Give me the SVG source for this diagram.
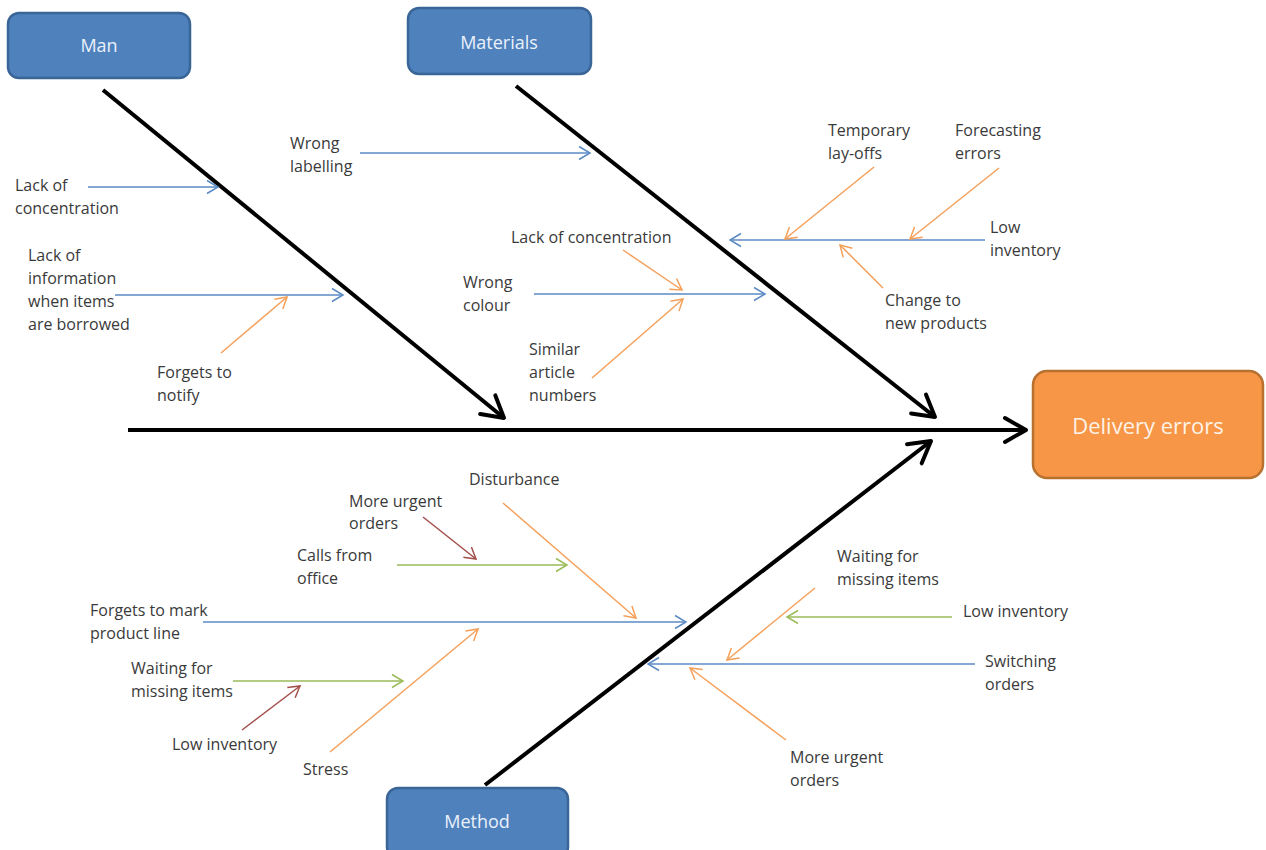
<svg xmlns="http://www.w3.org/2000/svg" width="1266" height="850" viewBox="0 0 1266 850">
  <style>
    .lbl { font-family: "Open Sans", "Liberation Sans", sans-serif; font-size: 16px; fill: #3a3a3a; }
    .cat { font-family: "Open Sans", "Liberation Sans", sans-serif; font-size: 18px; fill: #eaf1fa; text-anchor: middle; }
    .effect { font-family: "Open Sans", "Liberation Sans", sans-serif; font-size: 22px; fill: #fdf2e6; text-anchor: middle; }
    .catbox { fill: #4f81bd; stroke: #3a6597; stroke-width: 2.5; }
    .effbox { fill: #f79646; stroke: #b8702f; stroke-width: 2.5; }
    .bone { stroke: #000; stroke-width: 4; fill: none; marker-end: url(#ah-black); }
    .a { stroke-width: 1.5; fill: none; }
    .blue { stroke: #5b8ac4; marker-end: url(#ah-blue); }
    .orange { stroke: #f5a05a; marker-end: url(#ah-orange); }
    .green { stroke: #9bbb59; marker-end: url(#ah-green); }
    .red { stroke: #a24f4c; marker-end: url(#ah-red); }
  </style>
  <defs>
    <marker id="ah-black" markerUnits="userSpaceOnUse" markerWidth="28" markerHeight="30" refX="24" refY="15" orient="auto">
      <path d="M3,3 L24,15 L3,27" fill="none" stroke="#000" stroke-width="4" stroke-linecap="round" stroke-linejoin="round"/>
    </marker>
    <marker id="ah-blue" markerUnits="userSpaceOnUse" markerWidth="14" markerHeight="16" refX="12" refY="8" orient="auto">
      <path d="M1,1.5 L12,8 L1,14.5" fill="none" stroke="#5b8ac4" stroke-width="1.5"/>
    </marker>
    <marker id="ah-orange" markerUnits="userSpaceOnUse" markerWidth="14" markerHeight="16" refX="12" refY="8" orient="auto">
      <path d="M1,1.5 L12,8 L1,14.5" fill="none" stroke="#f5a05a" stroke-width="1.5"/>
    </marker>
    <marker id="ah-green" markerUnits="userSpaceOnUse" markerWidth="14" markerHeight="16" refX="12" refY="8" orient="auto">
      <path d="M1,1.5 L12,8 L1,14.5" fill="none" stroke="#9bbb59" stroke-width="1.5"/>
    </marker>
    <marker id="ah-red" markerUnits="userSpaceOnUse" markerWidth="14" markerHeight="16" refX="12" refY="8" orient="auto">
      <path d="M1,1.5 L12,8 L1,14.5" fill="none" stroke="#a24f4c" stroke-width="1.5"/>
    </marker>
  </defs>

  <rect width="1266" height="850" fill="#ffffff"/>

  <!-- connectors: spine, category bones and cause arrows -->
  <g id="connectors">
    <line class="bone" x1="128" y1="430" x2="1026" y2="430"/>
    <line class="bone" x1="103" y1="90" x2="504" y2="418"/>
    <line class="bone" x1="516" y1="86" x2="935" y2="417"/>
    <line class="bone" x1="485" y1="785" x2="931" y2="441"/>

    <!-- Man causes -->
    <line class="a blue" x1="88" y1="187" x2="218" y2="187"/>
    <line class="a blue" x1="115" y1="295" x2="343" y2="295"/>
    <line class="a orange" x1="221" y1="353" x2="287" y2="297"/>

    <!-- Materials causes -->
    <line class="a blue" x1="360" y1="153" x2="590" y2="153"/>
    <line class="a blue" x1="534" y1="294" x2="765" y2="294"/>
    <line class="a orange" x1="623" y1="250" x2="682" y2="290"/>
    <line class="a orange" x1="592" y1="378" x2="683" y2="299"/>
    <line class="a blue" x1="985" y1="240" x2="730" y2="240"/>
    <line class="a orange" x1="874" y1="167" x2="785" y2="239"/>
    <line class="a orange" x1="999" y1="168" x2="910" y2="239"/>
    <line class="a orange" x1="883" y1="288" x2="840" y2="245"/>

    <!-- Method causes, left -->
    <line class="a blue" x1="203" y1="622" x2="686" y2="622"/>
    <line class="a orange" x1="503" y1="503" x2="636" y2="618"/>
    <line class="a green" x1="397" y1="565" x2="567" y2="565"/>
    <line class="a red" x1="423" y1="517" x2="476" y2="559"/>
    <line class="a orange" x1="330" y1="752" x2="478" y2="629"/>
    <line class="a green" x1="233" y1="681" x2="403" y2="681"/>
    <line class="a red" x1="242" y1="730" x2="300" y2="686"/>

    <!-- Method causes, right -->
    <line class="a orange" x1="815" y1="588" x2="727" y2="660"/>
    <line class="a green" x1="952" y1="617" x2="787" y2="617"/>
    <line class="a blue" x1="975" y1="664" x2="648" y2="664"/>
    <line class="a orange" x1="786" y1="740" x2="690" y2="668"/>
  </g>

  <!-- category and effect boxes -->
  <g id="node-man">
    <rect class="catbox" x="8" y="13" width="182" height="65" rx="11"/>
    <text class="cat" x="99" y="52">Man</text>
  </g>
  <g id="node-materials">
    <rect class="catbox" x="408" y="8" width="183" height="66" rx="11"/>
    <text class="cat" x="499" y="49">Materials</text>
  </g>
  <g id="node-method">
    <rect class="catbox" x="387" y="788" width="181" height="70" rx="11"/>
    <text class="cat" x="477" y="828">Method</text>
  </g>
  <g id="node-effect">
    <rect class="effbox" x="1033" y="371" width="230" height="107" rx="14"/>
    <text class="effect" x="1148" y="434">Delivery errors</text>
  </g>

  <!-- cause labels -->
  <g id="labels-man">
    <text class="lbl" x="15" y="191">Lack of</text>
    <text class="lbl" x="15" y="214">concentration</text>
    <text class="lbl" x="28" y="261">Lack of</text>
    <text class="lbl" x="28" y="284">information</text>
    <text class="lbl" x="28" y="307">when items</text>
    <text class="lbl" x="28" y="330">are borrowed</text>
    <text class="lbl" x="157" y="378">Forgets to</text>
    <text class="lbl" x="157" y="401">notify</text>
  </g>
  <g id="labels-materials">
    <text class="lbl" x="290" y="149">Wrong</text>
    <text class="lbl" x="290" y="172">labelling</text>
    <text class="lbl" x="511" y="243">Lack of concentration</text>
    <text class="lbl" x="463" y="288">Wrong</text>
    <text class="lbl" x="463" y="311">colour</text>
    <text class="lbl" x="529" y="355">Similar</text>
    <text class="lbl" x="529" y="378">article</text>
    <text class="lbl" x="529" y="401">numbers</text>
    <text class="lbl" x="828" y="136">Temporary</text>
    <text class="lbl" x="828" y="159">lay-offs</text>
    <text class="lbl" x="955" y="136">Forecasting</text>
    <text class="lbl" x="955" y="159">errors</text>
    <text class="lbl" x="990" y="233">Low</text>
    <text class="lbl" x="990" y="256">inventory</text>
    <text class="lbl" x="885" y="306">Change to</text>
    <text class="lbl" x="885" y="329">new products</text>
  </g>
  <g id="labels-method">
    <text class="lbl" x="469" y="485">Disturbance</text>
    <text class="lbl" x="349" y="507">More urgent</text>
    <text class="lbl" x="349" y="529">orders</text>
    <text class="lbl" x="297" y="561">Calls from</text>
    <text class="lbl" x="297" y="584">office</text>
    <text class="lbl" x="90" y="616">Forgets to mark</text>
    <text class="lbl" x="90" y="639">product line</text>
    <text class="lbl" x="131" y="674">Waiting for</text>
    <text class="lbl" x="131" y="697">missing items</text>
    <text class="lbl" x="172" y="750">Low inventory</text>
    <text class="lbl" x="303" y="775">Stress</text>
    <text class="lbl" x="837" y="562">Waiting for</text>
    <text class="lbl" x="837" y="585">missing items</text>
    <text class="lbl" x="963" y="617">Low inventory</text>
    <text class="lbl" x="985" y="667">Switching</text>
    <text class="lbl" x="985" y="690">orders</text>
    <text class="lbl" x="790" y="763">More urgent</text>
    <text class="lbl" x="790" y="786">orders</text>
  </g>
</svg>
